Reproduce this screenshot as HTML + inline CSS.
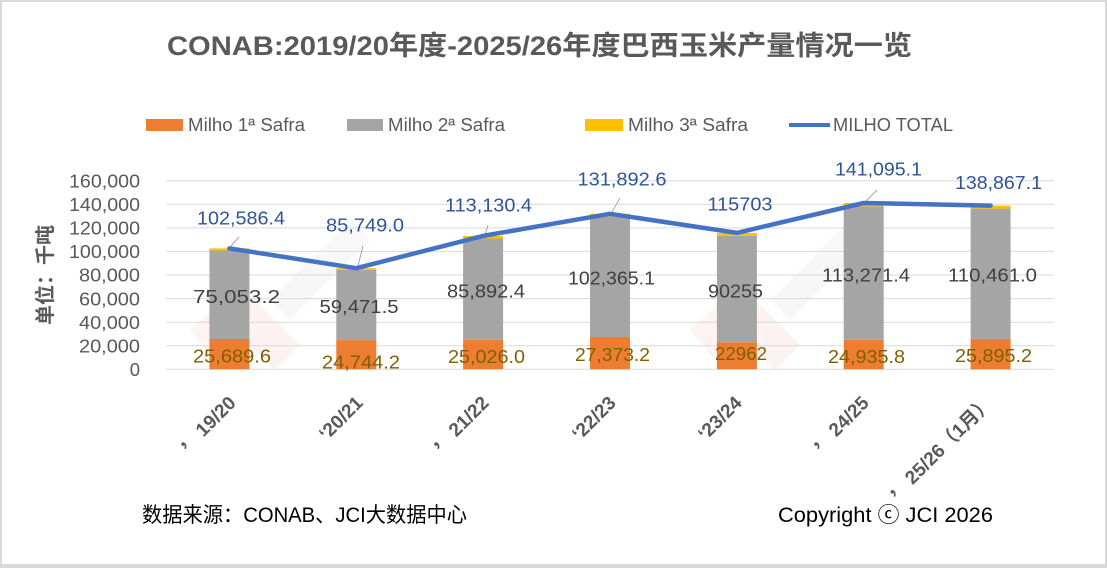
<!DOCTYPE html>
<html><head><meta charset="utf-8"><style>
html,body{margin:0;padding:0;background:#d9d9d9;}
svg{display:block;}
text{font-family:"Liberation Sans","Noto Sans CJK SC",sans-serif;}
</style></head><body>
<svg width="1107" height="568" viewBox="0 0 1107 568" xmlns="http://www.w3.org/2000/svg">
<rect x="0" y="0" width="1107" height="568" fill="#d9d9d9"/>
<rect x="2" y="2" width="1103" height="562" fill="#ffffff"/>

<!-- watermark (faint) -->
<g opacity="0.06">
  <polygon points="190,330 240,285 300,345 275,370 240,335 215,360" fill="#e03030"/>
  <polygon points="690,330 740,285 800,345 775,370 740,335 715,360" fill="#e03030"/>
  <polygon points="270,300 350,220 370,240 290,320" fill="#808080"/>
  <polygon points="770,300 850,220 870,240 790,320" fill="#808080"/>
</g>

<!-- title -->
<text x="539.5" y="55" text-anchor="middle" font-size="27" font-weight="bold" fill="#595959" textLength="745" lengthAdjust="spacingAndGlyphs">CONAB:2019/20年度-2025/26年度巴西玉米产量情况一览</text>

<!-- legend -->
<rect x="146" y="119" width="37" height="12" fill="#ED7D31"/>
<text x="188" y="131" font-size="18" fill="#595959" textLength="117" lengthAdjust="spacingAndGlyphs">Milho 1ª Safra</text>
<rect x="347" y="119" width="36" height="12" fill="#A5A5A5"/>
<text x="388" y="131" font-size="18" fill="#595959" textLength="117" lengthAdjust="spacingAndGlyphs">Milho 2ª Safra</text>
<rect x="585" y="119" width="38" height="12" fill="#FFC000"/>
<text x="628" y="131" font-size="18" fill="#595959" textLength="120" lengthAdjust="spacingAndGlyphs">Milho 3ª Safra</text>
<line x1="789" y1="125" x2="830" y2="125" stroke="#4472C4" stroke-width="4"/>
<text x="833" y="131" font-size="18" fill="#595959" textLength="120" lengthAdjust="spacingAndGlyphs">MILHO TOTAL</text>

<!-- gridlines -->
<g stroke="#d9d9d9" stroke-width="1">
  <line x1="166" y1="180.7" x2="1054" y2="180.7"/>
  <line x1="166" y1="204.3" x2="1054" y2="204.3"/>
  <line x1="166" y1="227.9" x2="1054" y2="227.9"/>
  <line x1="166" y1="251.4" x2="1054" y2="251.4"/>
  <line x1="166" y1="275.0" x2="1054" y2="275.0"/>
  <line x1="166" y1="298.6" x2="1054" y2="298.6"/>
  <line x1="166" y1="322.2" x2="1054" y2="322.2"/>
  <line x1="166" y1="345.8" x2="1054" y2="345.8"/>
  <line x1="166" y1="369.3" x2="1054" y2="369.3"/>
</g>

<!-- y tick labels -->
<g font-size="18.5" fill="#595959" text-anchor="end">
  <text x="140" y="187.5" textLength="71" lengthAdjust="spacingAndGlyphs">160,000</text>
  <text x="140" y="211" textLength="71" lengthAdjust="spacingAndGlyphs">140,000</text>
  <text x="140" y="234.6" textLength="71" lengthAdjust="spacingAndGlyphs">120,000</text>
  <text x="140" y="258.1" textLength="71" lengthAdjust="spacingAndGlyphs">100,000</text>
  <text x="140" y="281.7" textLength="61" lengthAdjust="spacingAndGlyphs">80,000</text>
  <text x="140" y="305.3" textLength="61" lengthAdjust="spacingAndGlyphs">60,000</text>
  <text x="140" y="328.9" textLength="61" lengthAdjust="spacingAndGlyphs">40,000</text>
  <text x="140" y="352.5" textLength="61" lengthAdjust="spacingAndGlyphs">20,000</text>
  <text x="140" y="376">0</text>
</g>

<!-- y axis title -->
<text transform="translate(52,275) rotate(-90)" text-anchor="middle" font-size="20" font-weight="bold" fill="#595959">单位：千吨</text>

<!-- bars -->
<g>
  <rect x="209.4" y="339.0" width="40" height="30.3" fill="#ED7D31"/>
  <rect x="209.4" y="250.5" width="40" height="88.5" fill="#A5A5A5"/>
  <rect x="209.4" y="248.4" width="40" height="2.1" fill="#FFC000"/>
  <rect x="336.3" y="340.1" width="40" height="29.2" fill="#ED7D31"/>
  <rect x="336.3" y="270.0" width="40" height="70.1" fill="#A5A5A5"/>
  <rect x="336.3" y="268.2" width="40" height="1.8" fill="#FFC000"/>
  <rect x="463.1" y="339.8" width="40" height="29.5" fill="#ED7D31"/>
  <rect x="463.1" y="238.5" width="40" height="101.3" fill="#A5A5A5"/>
  <rect x="463.1" y="235.9" width="40" height="2.6" fill="#FFC000"/>
  <rect x="590" y="337.0" width="40" height="32.3" fill="#ED7D31"/>
  <rect x="590" y="216.4" width="40" height="120.6" fill="#A5A5A5"/>
  <rect x="590" y="213.8" width="40" height="2.6" fill="#FFC000"/>
  <rect x="716.9" y="342.2" width="40" height="27.1" fill="#ED7D31"/>
  <rect x="716.9" y="235.8" width="40" height="106.4" fill="#A5A5A5"/>
  <rect x="716.9" y="232.9" width="40" height="2.9" fill="#FFC000"/>
  <rect x="843.7" y="339.9" width="40" height="29.4" fill="#ED7D31"/>
  <rect x="843.7" y="206.4" width="40" height="133.5" fill="#A5A5A5"/>
  <rect x="843.7" y="203.0" width="40" height="3.4" fill="#FFC000"/>
  <rect x="970.6" y="338.8" width="40" height="30.5" fill="#ED7D31"/>
  <rect x="970.6" y="208.6" width="40" height="130.2" fill="#A5A5A5"/>
  <rect x="970.6" y="205.6" width="40" height="3.0" fill="#FFC000"/>
</g>

<!-- leader lines -->
<g stroke="#a6a6a6" stroke-width="1">
  <line x1="231" y1="246" x2="239" y2="237"/>
  <line x1="358" y1="266" x2="363" y2="246"/>
  <line x1="485" y1="235" x2="488" y2="225"/>
  <line x1="612" y1="212" x2="620" y2="198"/>
  <line x1="865" y1="202" x2="877" y2="190"/>
</g>

<!-- total line -->
<polyline points="229.4,248.4 356.3,268.2 483.1,235.9 610,213.8 736.9,232.9 863.7,203.0 990.6,205.6" fill="none" stroke="#4472C4" stroke-width="4.5" stroke-linejoin="round" stroke-linecap="round"/>

<!-- total labels -->
<g font-size="18.5" fill="#2F5597" text-anchor="middle">
  <text x="241" y="224.5" textLength="88" lengthAdjust="spacingAndGlyphs">102,586.4</text>
  <text x="365" y="231.5" textLength="78" lengthAdjust="spacingAndGlyphs">85,749.0</text>
  <text x="488.5" y="211.5" textLength="87" lengthAdjust="spacingAndGlyphs">113,130.4</text>
  <text x="622" y="185.5" textLength="89" lengthAdjust="spacingAndGlyphs">131,892.6</text>
  <text x="740" y="210.5" textLength="65" lengthAdjust="spacingAndGlyphs">115703</text>
  <text x="878.5" y="175.5" textLength="87" lengthAdjust="spacingAndGlyphs">141,095.1</text>
  <text x="998.5" y="189" textLength="87" lengthAdjust="spacingAndGlyphs">138,867.1</text>
</g>

<!-- 2nd safra labels -->
<g font-size="18.5" fill="#404040" text-anchor="middle">
  <text x="236.5" y="303.2" textLength="87" lengthAdjust="spacingAndGlyphs">75,053.2</text>
  <text x="359" y="313.2" textLength="79" lengthAdjust="spacingAndGlyphs">59,471.5</text>
  <text x="486" y="297.5" textLength="78" lengthAdjust="spacingAndGlyphs">85,892.4</text>
  <text x="611.5" y="284.5" textLength="87" lengthAdjust="spacingAndGlyphs">102,365.1</text>
  <text x="735.5" y="297.5" textLength="55" lengthAdjust="spacingAndGlyphs">90255</text>
  <text x="866" y="281.5" textLength="88" lengthAdjust="spacingAndGlyphs">113,271.4</text>
  <text x="992.5" y="281.5" textLength="89" lengthAdjust="spacingAndGlyphs">110,461.0</text>
</g>

<!-- 1st safra labels -->
<g font-size="18.5" fill="#7F6000" text-anchor="middle">
  <text x="232" y="362.5" textLength="78" lengthAdjust="spacingAndGlyphs">25,689.6</text>
  <text x="361" y="368.5" textLength="78" lengthAdjust="spacingAndGlyphs">24,744.2</text>
  <text x="486.5" y="363.2" textLength="77" lengthAdjust="spacingAndGlyphs">25,026.0</text>
  <text x="612.5" y="361" textLength="75" lengthAdjust="spacingAndGlyphs">27,373.2</text>
  <text x="741" y="359.8" textLength="52" lengthAdjust="spacingAndGlyphs">22962</text>
  <text x="866.5" y="363.2" textLength="77" lengthAdjust="spacingAndGlyphs">24,935.8</text>
  <text x="993.5" y="362.2" textLength="77" lengthAdjust="spacingAndGlyphs">25,895.2</text>
</g>

<!-- x labels -->
<g font-size="19" font-weight="bold" fill="#595959" text-anchor="end">
  <text transform="translate(237,404) rotate(-45)" xml:space="preserve"><tspan dy="-7">，</tspan><tspan dy="7"> 19/20</tspan></text>
  <text transform="translate(364,404) rotate(-45)">‘20/21</text>
  <text transform="translate(490,404) rotate(-45)" xml:space="preserve"><tspan dy="-7">，</tspan><tspan dy="7"> 21/22</tspan></text>
  <text transform="translate(617,404) rotate(-45)">‘22/23</text>
  <text transform="translate(743,404) rotate(-45)">‘23/24</text>
  <text transform="translate(870,404) rotate(-45)" xml:space="preserve"><tspan dy="-7">，</tspan><tspan dy="7"> 24/25</tspan></text>
  <text transform="translate(994,404) rotate(-45)" xml:space="preserve"><tspan dy="-7">，</tspan><tspan dy="7"> 25/26（1月）</tspan></text>
</g>

<!-- footer -->
<text x="142" y="522" font-size="21" fill="#000000" textLength="325" lengthAdjust="spacingAndGlyphs">数据来源：CONAB、JCI大数据中心</text>
<text x="778" y="522" font-size="21" fill="#000000" textLength="215" lengthAdjust="spacingAndGlyphs">Copyright ⓒ JCI 2026</text>
</svg>
</body></html>
